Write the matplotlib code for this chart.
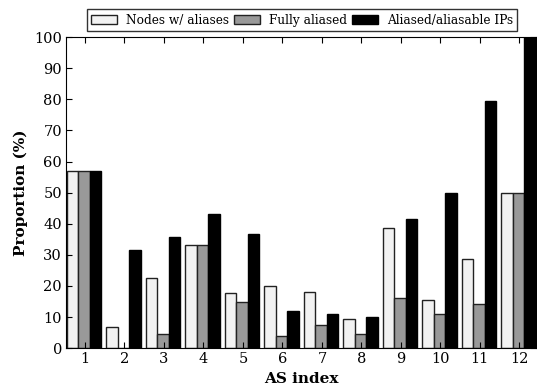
import matplotlib
matplotlib.use('Agg')
import matplotlib.pyplot as plt
import numpy as np

plt.rcParams['font.family'] = 'DejaVu Serif'

as_index = np.arange(1, 13)
nodes_aliases = [57.1, 6.9, 22.7, 33.3, 17.6, 20.0, 17.9, 9.5, 38.7, 15.6, 28.6, 50.0]
fully_aliased = [57.1, 0.0, 4.5, 33.3, 14.7, 4.0, 7.6, 4.7, 16.0, 11.1, 14.3, 50.0]
aliased_ips = [57.1, 31.5, 35.6, 43.0, 36.7, 12.0, 10.9, 9.9, 41.5, 50.0, 79.4, 100.0]

fig = plt.figure(figsize=(5.37, 3.86), dpi=100)
ax = fig.add_axes([0.123, 0.098, 0.875, 0.806])

w = 0.29
ax.bar(as_index - 0.46, nodes_aliases, w, align='edge', color='#f2f2f2', edgecolor='#222222', linewidth=1, label='Nodes w/ aliases')
ax.bar(as_index - 0.46 + w, fully_aliased, w, align='edge', color='#999999', edgecolor='#222222', linewidth=1, label='Fully aliased')
ax.bar(as_index - 0.46 + 2*w, aliased_ips, w, align='edge', color='black', edgecolor='black', linewidth=1, label='Aliased/aliasable IPs')

ax.set_xlim(0.52, 12.42)
ax.set_ylim(0, 100)
ax.set_xticks(as_index)
ax.set_yticks(range(0, 101, 10))
ax.tick_params(direction='in', top=True, right=True, labelsize=10.5, length=4, pad=3)
ax.set_xlabel('AS index', fontsize=11, fontweight='bold', labelpad=4)
ax.set_ylabel('Proportion (%)', fontsize=11, fontweight='bold', labelpad=4)

fig.legend(loc='center', bbox_to_anchor=(0.562, 0.948), ncol=3, fontsize=8.7,
           frameon=True, fancybox=False, edgecolor='black', handlelength=2.15,
           handletextpad=0.75, columnspacing=0.4, borderpad=0.35)

plt.savefig('out.png', dpi=100)
